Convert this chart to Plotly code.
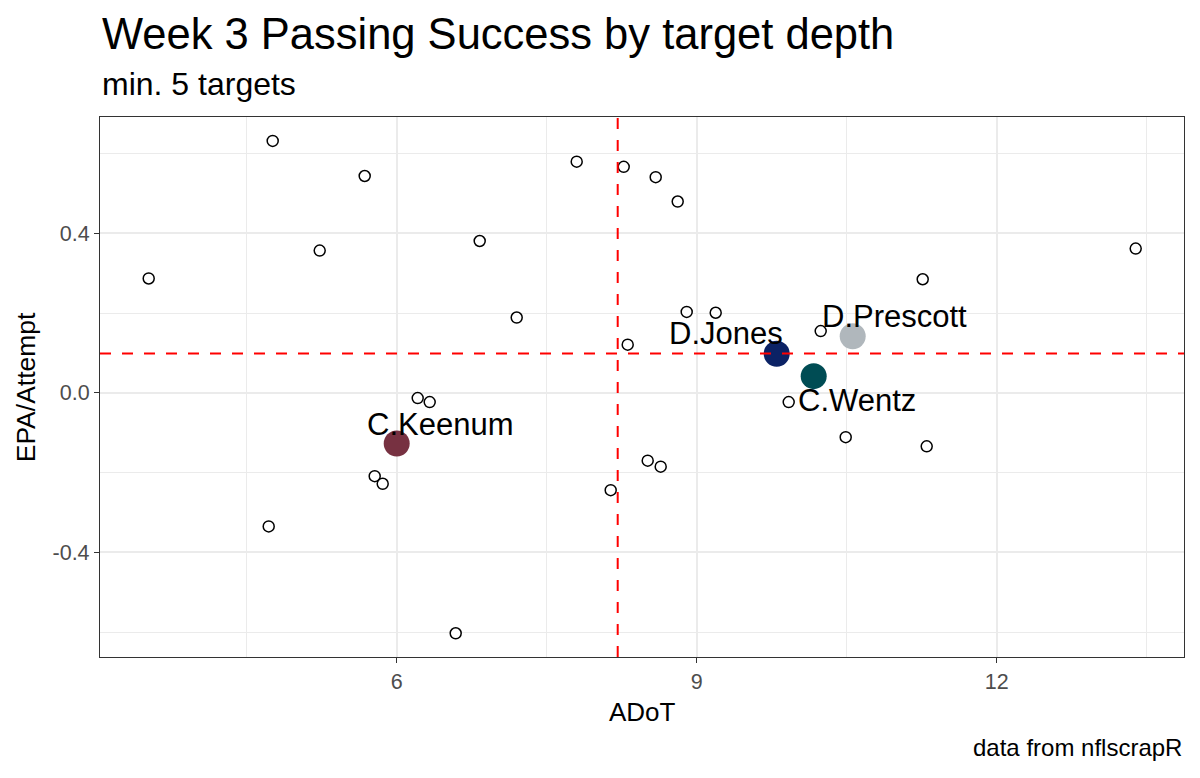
import plotly.graph_objects as go

# ---------------- data ----------------
others_adot = [3.52, 4.76, 5.68, 5.23, 6.83, 6.21, 6.33, 7.80, 8.27, 8.59, 8.81, 7.20,
               8.90, 9.19, 8.31, 10.24, 9.92, 11.26, 13.39, 5.78, 5.86, 4.72, 6.59,
               8.51, 8.64, 8.14, 10.49, 11.30]
others_epa = [0.287, 0.632, 0.544, 0.357, 0.381, -0.013, -0.023, 0.580, 0.567, 0.541,
              0.480, 0.189, 0.203, 0.201, 0.121, 0.155, -0.023, 0.285, 0.362, -0.209,
              -0.228, -0.335, -0.603, -0.170, -0.185, -0.244, -0.111, -0.134]

hl_names = ["D.Jones", "D.Prescott", "C.Wentz", "C.Keenum"]
hl_adot = [9.80, 10.56, 10.17, 6.00]
hl_epa = [0.098, 0.142, 0.042, -0.127]
hl_colors = ["#0B2265", "#B0B7BC", "#004C54", "#773141"]

mean_adot = 8.21
mean_epa = 0.099

x_ticks = [6, 9, 12]
x_ticktext = ["6", "9", "12"]
y_ticks = [-0.4, 0.0, 0.4]
y_ticktext = ["-0.4", "0.0", "0.4"]

title_text = "Week 3 Passing Success by target depth"
subtitle_text = "min. 5 targets"
caption_text = "data from nflscrapR"
x_title = "ADoT"
y_title = "EPA/Attempt"

# ---------------- styling ----------------
FONT = "Liberation Sans, Arial, Helvetica, sans-serif"
label_offsets = {"D.Jones": (-51, 20), "D.Prescott": (42, 20),
                 "C.Wentz": (43, -24), "C.Keenum": (43, 19)}

fig = go.Figure()

fig.add_trace(go.Scatter(
    x=others_adot, y=others_epa, mode="markers",
    marker=dict(size=11, color="white", line=dict(color="black", width=1.5)),
    showlegend=False, hoverinfo="x+y"))

fig.add_trace(go.Scatter(
    x=hl_adot, y=hl_epa, mode="markers",
    marker=dict(size=26, color=hl_colors, line=dict(width=0)),
    text=hl_names, showlegend=False, hoverinfo="text+x+y"))

# reference lines
fig.add_hline(y=mean_epa, line=dict(color="#FF0000", width=2, dash="11px,11px"))
fig.add_vline(x=mean_adot, line=dict(color="#FF0000", width=2, dash="11px,11px"))

# labels
for n, xv, yv in zip(hl_names, hl_adot, hl_epa):
    dx, dy = label_offsets[n]
    fig.add_annotation(x=xv, y=yv, xref="x", yref="y", text=n, showarrow=False,
                       xshift=dx, yshift=dy, xanchor="center", yanchor="middle",
                       font=dict(family=FONT, size=31, color="black"))

# titles
fig.add_annotation(xref="paper", yref="paper", x=0, y=1.154, text=title_text,
                   showarrow=False, xanchor="left", yanchor="middle",
                   font=dict(family=FONT, size=43.5, color="black"))
fig.add_annotation(xref="paper", yref="paper", x=0, y=1.061, text=subtitle_text,
                   showarrow=False, xanchor="left", yanchor="middle",
                   font=dict(family=FONT, size=32, color="black"))
fig.add_annotation(xref="paper", yref="paper", x=0.5, y=-0.102, text=x_title,
                   showarrow=False, xanchor="center", yanchor="middle",
                   font=dict(family=FONT, size=26, color="black"))
fig.add_annotation(xref="paper", yref="paper", x=-0.068, y=0.5, text=y_title,
                   showarrow=False, xanchor="center", yanchor="middle", textangle=-90,
                   font=dict(family=FONT, size=26.5, color="black"))
fig.add_annotation(xref="paper", yref="paper", x=1, y=-0.168, text=caption_text,
                   showarrow=False, xanchor="right", yanchor="middle",
                   font=dict(family=FONT, size=24, color="black"))

axis_common = dict(
    showline=True, linecolor="#333333", linewidth=1.2, mirror=True,
    ticks="outside", ticklen=5, tickwidth=1.2, tickcolor="#333333",
    showgrid=True, gridcolor="#EBEBEB", gridwidth=1.6, zeroline=False,
    tickfont=dict(family=FONT, size=21.5, color="#4D4D4D"),
)

fig.update_xaxes(range=[3.033, 13.873], tickmode="array", tickvals=x_ticks,
                 ticktext=x_ticktext,
                 minor=dict(tickmode="linear", tick0=4.5, dtick=3, showgrid=True,
                            gridcolor="#EBEBEB", gridwidth=0.8, ticks=""),
                 **axis_common)
fig.update_yaxes(range=[-0.6625, 0.692], tickmode="array", tickvals=y_ticks,
                 ticktext=y_ticktext,
                 minor=dict(tickmode="linear", tick0=-0.6, dtick=0.4, showgrid=True,
                            gridcolor="#EBEBEB", gridwidth=0.8, ticks=""),
                 **axis_common)

fig.update_layout(
    width=1200, height=778,
    margin=dict(l=100, r=16, t=117, b=121),
    paper_bgcolor="white", plot_bgcolor="white",
    font=dict(family=FONT, color="black"),
    showlegend=False,
)

fig.write_html("out.html")
